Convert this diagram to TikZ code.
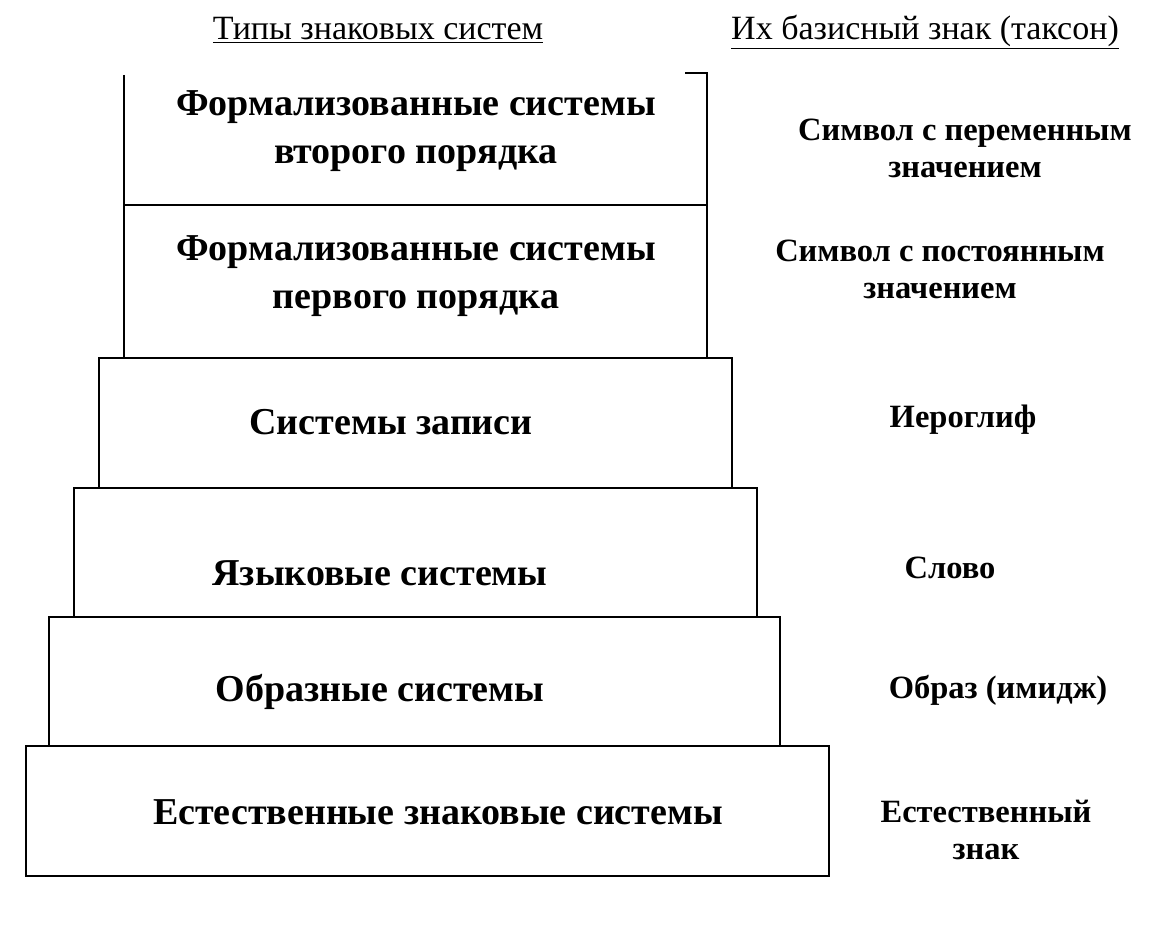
\documentclass[tikz,border=0pt]{standalone}
\usepackage{fontspec}
\setmainfont{Liberation Serif}
\usetikzlibrary{positioning}

\begin{document}
\begin{tikzpicture}[x=1pt, y=-1pt,
    tier/.style={draw, line width=1.8pt, inner sep=0pt},
    tiertext/.style={font=\bfseries\fontsize{38}{48}\selectfont, align=center},
    taxon/.style={font=\bfseries\fontsize{32.5}{37}\selectfont, align=center},
    head/.style={font=\fontsize{34}{40}\selectfont, anchor=base}]
    \useasboundingbox (0,0) rectangle (1169,925);

    % column heads
    \node[head] (h-types) at (378,40) {\underline{Типы знаковых систем}};
    \node[head] (h-taxon) at (925,40) {\underline{Их базисный знак (таксон)}};

    % tiers, bottom up
    \node[tier, minimum width=803, minimum height=130] (natural) at (427.5,811) {};
    \node[tier, minimum width=731, minimum height=129] (imagery) at (414.5,681.5) {};
    \node[tier, minimum width=683, minimum height=129] (lang) at (415.5,552.5) {};
    \node[tier, minimum width=633, minimum height=130] (writing) at (415.5,423) {};
    \node[tier, minimum width=583, minimum height=153] (formal1) at (415.5,281.5) {};
    \node[inner sep=0pt, minimum width=583, minimum height=130] (formal2) at (415.5,140) {};
    \draw[line width=1.8pt] (formal2.north west) -- (formal2.south west) -- (formal2.south east)
        -- ([yshift=2pt]formal2.north east) -- ++(-22,0);

    % tier names
    \node[tiertext] (natural-t) at (438,812) {Естественные знаковые системы};
    \node[tiertext] (imagery-t) at (380,692) {Образные системы};
    \node[tiertext] (lang-t) at (380,573) {Языковые системы};
    \node[tiertext] (writing-t) at (391,422) {Системы записи};
    \node[tiertext] (formal1-t) at (416,276) {Формализованные системы\\первого порядка};
    \node[tiertext] (formal2-t) at (416,131) {Формализованные системы\\второго порядка};

    % basic signs
    \node[taxon] (natural-s) at (986,830) {Естественный\\знак};
    \node[taxon] (imagery-s) at (998,690) {Образ (имидж)};
    \node[taxon] (lang-s) at (950,568) {Слово};
    \node[taxon] (writing-s) at (963,420) {Иероглиф};
    \node[taxon] (formal1-s) at (940,269) {Символ с постоянным\\значением};
    \node[taxon] (formal2-s) at (965,148) {Символ с переменным\\значением};
\end{tikzpicture}
\end{document}
